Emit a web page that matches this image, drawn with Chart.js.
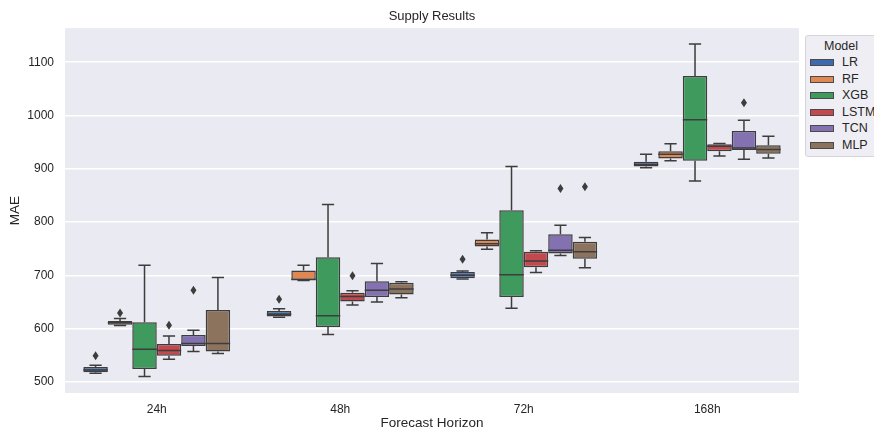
<!DOCTYPE html>
<html>
<head>
<meta charset="utf-8">
<script src="https://cdn.jsdelivr.net/npm/chart.js@4.4.1/dist/chart.umd.min.js"></script>
<style>
  html, body { margin: 0; padding: 0; background: #ffffff; overflow: hidden; }
  #wrap { position: relative; width: 874px; height: 431px; }
  #legend {
    position: absolute; left: 805px; top: 35px; width: 84px; height: 122px;
    background: #eeeef4; border: 1px solid #d4d4da; border-radius: 3px;
    font-family: "Liberation Sans", Arial, sans-serif; font-size: 12.5px; color: #262626;
    box-sizing: border-box;
  }
  #legend .title { text-align: center; width: 70px; margin-top: 2px; height: 16px; line-height: 16px; }
  #legend .row { height: 16.6px; line-height: 16.6px; white-space: nowrap; }
  #legend .sw { display: inline-block; width: 24px; height: 7px; margin: 0 8px 0 4px; vertical-align: 0px;
    border: 1px solid #4a4a4a; box-sizing: border-box; }
</style>
</head>
<body>
<div id="wrap">
  <canvas id="chart" width="874" height="431"></canvas>
  <div id="legend"></div>
</div>
<script>
// Forecast horizons on the x axis
const horizons = ['24h', '48h', '72h', '168h'];
const models = ['LR', 'RF', 'XGB', 'LSTM', 'TCN', 'MLP'];
const colors = ['#3f6aad', '#df8854', '#3f9a5e', '#c24a4e', '#8471b1', '#8c735d'];
const yTicks = [500, 600, 700, 800, 900, 1000, 1100];

// [whisker low, q1, median, q3, whisker high] per horizon
const LR   = [[516, 518, 522, 528, 531], [621, 622.5, 627, 633, 637], [693, 694.5, 700, 706, 708], [902, 904, 908, 913, 927]];
const RF   = [[605.5, 607, 611, 614, 619], [690, 691, 692, 709, 719], [749, 754, 759, 767, 780], [915, 919, 927, 933, 947]];
const XGB  = [[510, 524, 561, 612, 719], [589, 603, 624, 734, 833], [638, 659, 701, 822, 904], [877, 915, 992, 1074, 1134]];
const LSTM = [[542.5, 549, 559, 571, 586], [644, 651, 660, 667, 671], [705, 715, 727, 744, 746], [924, 933, 942, 946, 947.5]];
const TCN  = [[557, 567, 572, 588, 597], [650, 659, 672, 689, 722], [737, 741, 747, 777, 794], [918, 935, 939, 971, 991]];
const MLP  = [[553, 557, 572, 635, 696], [658, 664, 674, 686, 688], [714, 731, 744, 763, 771], [920, 928, 936, 944, 961]];

// outliers per horizon
const LR_OUT   = [[549], [655], [730], []];
const RF_OUT   = [[629], [], [], []];
const XGB_OUT  = [[], [], [], []];
const LSTM_OUT = [[606], [699], [], []];
const TCN_OUT  = [[672], [], [863], [1024]];
const MLP_OUT  = [[], [], [866], []];

const stats = [LR, RF, XGB, LSTM, TCN, MLP];
const outliers = [LR_OUT, RF_OUT, XGB_OUT, LSTM_OUT, TCN_OUT, MLP_OUT];

const lineColor = '#3d3d3d';
const font = "'Liberation Sans', Arial, sans-serif";

// Seaborn-like axes background
const bgPlugin = {
  id: 'bg',
  beforeDraw(chart) {
    const { ctx, chartArea: a } = chart;
    ctx.save();
    ctx.fillStyle = '#eaeaf2';
    ctx.fillRect(a.left, a.top, a.right - a.left, a.bottom - a.top);
    ctx.restore();
  }
};

// Whiskers, caps, medians and fliers on top of the floating bars
const boxPlugin = {
  id: 'boxes',
  afterDatasetsDraw(chart) {
    const { ctx } = chart;
    const y = chart.scales.y;
    ctx.save();
    ctx.strokeStyle = lineColor;
    ctx.fillStyle = lineColor;
    ctx.lineWidth = 1.5;
    chart.data.datasets.forEach((ds, i) => {
      const meta = chart.getDatasetMeta(i);
      meta.data.forEach((el, j) => {
        const s = ds.stats[j];
        const x = el.x;
        const half = el.width / 2;
        const cap = el.width / 4;
        const py = v => y.getPixelForValue(v);
        ctx.beginPath();
        // lower whisker
        ctx.moveTo(x, py(s[1])); ctx.lineTo(x, py(s[0]));
        ctx.moveTo(x - cap, py(s[0])); ctx.lineTo(x + cap, py(s[0]));
        // upper whisker
        ctx.moveTo(x, py(s[3])); ctx.lineTo(x, py(s[4]));
        ctx.moveTo(x - cap, py(s[4])); ctx.lineTo(x + cap, py(s[4]));
        // median
        ctx.moveTo(x - half, py(s[2])); ctx.lineTo(x + half, py(s[2]));
        ctx.stroke();
        // fliers as thin diamonds
        ds.outliers[j].forEach(v => {
          const oy = py(v);
          ctx.beginPath();
          ctx.moveTo(x, oy - 4.5);
          ctx.lineTo(x + 3, oy);
          ctx.lineTo(x, oy + 4.5);
          ctx.lineTo(x - 3, oy);
          ctx.closePath();
          ctx.fill();
        });
      });
    });
    ctx.restore();
  }
};

const datasets = models.map((m, i) => ({
  label: m,
  data: stats[i].map(s => [s[1], s[3]]),
  stats: stats[i],
  outliers: outliers[i],
  backgroundColor: colors[i],
  borderColor: lineColor,
  borderWidth: 1.5,
  borderSkipped: false,
  categoryPercentage: 0.8,
  barPercentage: 1.0
}));

new Chart(document.getElementById('chart').getContext('2d'), {
  type: 'bar',
  data: { labels: horizons, datasets: datasets },
  options: {
    responsive: false,
    animation: false,
    layout: { padding: { left: 0, right: 75, top: 0, bottom: 0 } },
    plugins: {
      legend: { display: false },
      tooltip: { enabled: false },
      title: {
        display: true,
        text: 'Supply Results',
        fullSize: false,
        color: '#262626',
        font: { family: font, size: 13, weight: 'normal' },
        padding: { top: 9, bottom: 3.5 }
      }
    },
    scales: {
      x: {
        grid: { display: false, drawTicks: false },
        border: { display: false },
        ticks: { color: '#262626', font: { family: font, size: 12 }, padding: 9 },
        title: {
          display: true, text: 'Forecast Horizon', color: '#262626',
          font: { family: font, size: 13.5 }, padding: { top: 0, bottom: 0 }
        },
        afterFit(scale) { scale.height = 38; }
      },
      y: {
        min: 479,
        max: 1164,
        grid: { color: '#ffffff', lineWidth: 1.5, drawTicks: false },
        border: { display: false },
        ticks: {
          color: '#262626', font: { family: font, size: 12 }, padding: 11,
          callback: v => String(v)
        },
        afterBuildTicks(scale) { scale.ticks = yTicks.map(v => ({ value: v })); },
        title: {
          display: true, text: 'MAE', color: '#262626',
          font: { family: font, size: 13.5 }, padding: { top: 7, bottom: 0 }
        },
        afterFit(scale) { scale.width = 65; }
      }
    }
  },
  plugins: [bgPlugin, boxPlugin]
});

// HTML legend box like the seaborn one
const legend = document.getElementById('legend');
legend.innerHTML = '<div class="title">Model</div>' + models.map((m, i) =>
  '<div class="row"><span class="sw" style="background:' + colors[i] + '"></span>' + m + '</div>'
).join('');
</script>
</body>
</html>
